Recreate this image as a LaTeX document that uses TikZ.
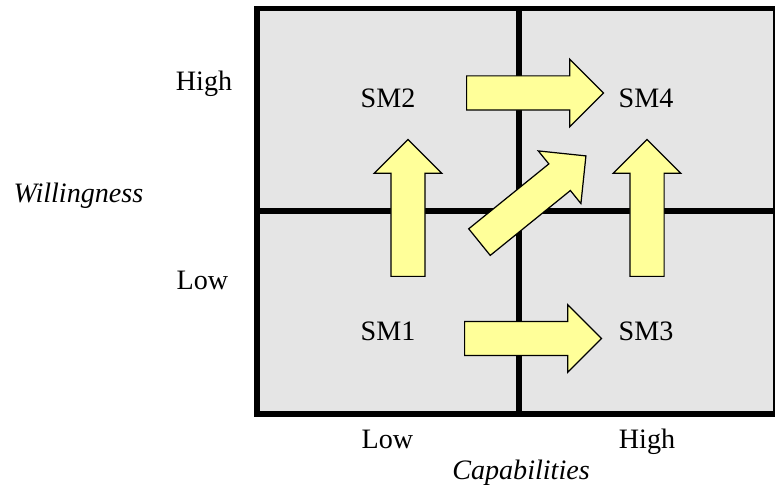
\documentclass[tikz,border=0pt]{standalone}
\usepackage{fontspec}
\setmainfont{Liberation Serif}
\usepackage{tikz}
\usetikzlibrary{shapes.arrows,positioning}
\definecolor{gridFill}{HTML}{E5E5E5}
\definecolor{moveFill}{HTML}{FFFF99}

\begin{document}
\begin{tikzpicture}[
  x=0.02cm,y=0.02cm,
  font=\fontsize{16}{19}\selectfont,
  gridline/.style={line width=3.1pt,black},
  move/.style={single arrow,draw=black,fill=moveFill,line width=0.7pt,
               minimum height=2.74cm,inner sep=0.33cm,
               single arrow head extend=0.335cm,anchor=tail},
  lbl/.style={anchor=base,inner sep=0pt}
]
\useasboundingbox (0,0) rectangle (775,487);
% ---- Quadrant grid ----
\fill[gridFill] (257,73) rectangle (776,478.5);
\draw[gridline] (519,73) -- (519,478.5);
\draw[gridline] (257,276) -- (776,276);
\draw[gridline] (257,73) rectangle (776,478.5);

% ---- Movement arrows ----
\node[move,rotate=90] (m12) at (408,210)   {};
\node[move,rotate=90] (m34) at (647,210)   {};
\node[move]           (m13) at (464,148.5) {};
\node[move]           (m24) at (466,394)   {};
\node[move,rotate=39] (m14) at (479,244.5) {};

% ---- Quadrant labels ----
\node[lbl] (sm2) at (388,379) {SM2};
\node[lbl] (sm4) at (646,379) {SM4};
\node[lbl] (sm1) at (388,146) {SM1};
\node[lbl] (sm3) at (646,146) {SM3};

% ---- Axis labels ----
\node[lbl] (wHigh) at (204,396)   {High};
\node[lbl] (wLow)  at (202.5,197) {Low};
\node[lbl] (wAxis) at (78.5,284)  {\itshape Willingness};
\node[lbl] (cLow)  at (387.5,38.5) {Low};
\node[lbl] (cHigh) at (647,38.5)  {High};
\node[lbl] (cAxis) at (521,7)     {\itshape Capabilities};
\end{tikzpicture}
\end{document}
